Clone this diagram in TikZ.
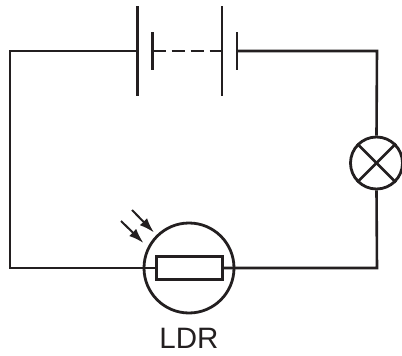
\documentclass[tikz,border=0pt]{standalone}
\usepackage{fontspec}
\setmainfont{Liberation Sans}
\usetikzlibrary{arrows.meta}
\definecolor{ink}{HTML}{231F20}
\tikzset{
 wire/.style={draw=ink,line width=2.6pt},
 plate/.style={draw=ink,line width=2.6pt},
 round/.style={circle,draw=ink,line width=2.8pt,inner sep=0pt,fill=none},
 ray/.style={draw=ink,line width=2pt,-{Latex[length=15pt,width=10pt]}},
 x=1pt,y=-1pt
}
\begin{document}
\begin{tikzpicture}
\useasboundingbox (0,0) rectangle (402,356);
% named points
\coordinate (cornerTL) at (10,51);
\coordinate (cornerBL) at (10,268);
\coordinate (cornerTR) at (377,51);
\coordinate (cornerBR) at (377,268);
\coordinate (l1) at (137.5,51);
\coordinate (s1) at (152.5,51);
\coordinate (l2) at (222,51);
\coordinate (s2) at (237,51);
% components
\node[round,minimum size=52pt] (lamp) at (376.5,163) {};
\node[round,minimum size=90pt] (ldr) at (189,268) {};
\node[draw=ink,line width=2.8pt,minimum width=66pt,minimum height=23pt,inner sep=0pt] (res) at (189.5,268) {};
\node[font=\fontsize{29.5}{31}\selectfont,text=ink,inner sep=0pt] (lbl) at (189,338) {LDR};
% battery
\draw[plate] (137.5,6) -- (137.5,96);
\draw[plate] (152.5,32) -- (152.5,70);
\draw[plate] (222,6) -- (222,96);
\draw[plate] (237,32) -- (237,70);
\draw[wire,dash pattern=on 13.5pt off 5.5pt] (s1) -- (l2);
% wires
\draw[wire,line join=miter] (l1) -- (cornerTL) -- (cornerBL) -- (res.west);
\draw[wire,line join=miter] (s2) -- (cornerTR) -- (lamp.north);
\draw[wire,line join=miter] (lamp.south) -- (cornerBR) -- (res.east);
% lamp cross
\draw[wire] (lamp.north west) -- (lamp.south east);
\draw[wire] (lamp.north east) -- (lamp.south west);
% light arrows
\coordinate (a1s) at (132,210);
\coordinate (a1e) at (154,232.5);
\coordinate (a2s) at (121,221);
\coordinate (a2e) at (143.5,243);
\draw[ray] (a1s) -- (a1e);
\draw[ray] (a2s) -- (a2e);
\end{tikzpicture}
\end{document}
